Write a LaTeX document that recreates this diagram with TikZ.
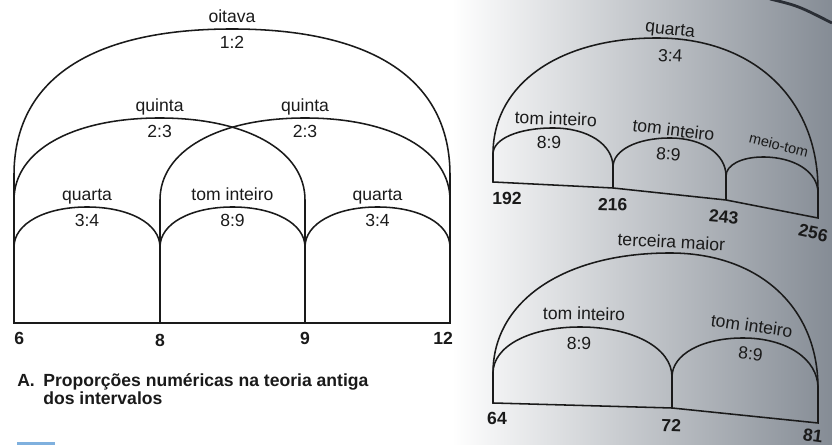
\documentclass[tikz,border=0pt]{standalone}
\usepackage{fontspec}
\setmainfont{Liberation Sans}
\usetikzlibrary{calc}
\definecolor{c1}{HTML}{1A1A1A}
\definecolor{pagegray}{HTML}{858C95}
\definecolor{edgecolor}{HTML}{2A2E35}
\definecolor{barcolor}{HTML}{7FB0DE}

\begin{document}
\begin{tikzpicture}[
    every node/.style={text=c1, inner sep=0pt},
    arch/.style={draw=c1, line width=1.1pt},
    lab/.style={anchor=base, font=\fontsize{12.5}{15}\selectfont},
    ratio/.style={anchor=base, font=\fontsize{12.5}{15}\selectfont},
    tag/.style={anchor=base, font=\fontsize{12.5}{15}\selectfont\bfseries},
    capt/.style={anchor=base west, font=\fontsize{12.5}{15}\selectfont\bfseries},
]
\useasboundingbox (0, 0) rectangle (20.80, 11.125);

% the photographed page darkens to the right
\shade[left color=white, right color=pagegray] (11.30, 0) rectangle (20.80, 11.125);
\draw[edgecolor, line width=2pt] (19.25, 11.15) .. controls (19.95, 10.98) .. (20.80, 10.55);
\fill[barcolor] (0.425, 0) rectangle (1.375, 0.07);

% ============================================================ A. 6 : 8 : 9 : 12
\foreach \n/\x in {6/0.35, 8/4.00, 9/7.625, 12/11.25}{
    \coordinate (f\n) at (\x, 3.05);
    \coordinate (u\n) at (\x, 6.125);
    \coordinate (l\n) at (\x, 4.95);
}
\coordinate (o6)  at (0.35, 6.75);
\coordinate (o12) at (11.25, 6.75);
\coordinate (tOit) at (5.80, 10.40);
\coordinate (tQuL) at (3.99, 8.175);
\coordinate (tQuR) at (7.625, 8.175);
\coordinate (tQaL) at (2.175, 5.95);
\coordinate (tTom) at (5.8125, 5.95);
\coordinate (tQaR) at (9.4375, 5.95);

\draw[arch] (o6) -- (f6) -- (f12) -- (o12);
\draw[arch] (f8) -- (u8);
\draw[arch] (f9) -- (u9);

% ============================================================ top-right, 192 : 216 : 243 : 256
\coordinate (F1) at (12.325, 6.575);
\coordinate (S1) at (12.325, 7.275);
\coordinate (F2) at (15.325, 6.425);
\coordinate (S2) at (15.325, 6.95);
\coordinate (F3) at (18.15, 6.125);
\coordinate (S3) at (18.15, 6.725);
\coordinate (F4) at (20.45, 5.675);
\coordinate (S4) at (20.45, 6.30);
\coordinate (S4o) at (20.45, 6.375);
\coordinate (Tq)  at (16.425, 10.175);
\coordinate (Tt1) at (13.825, 7.925);
\coordinate (Tt2) at (16.75, 7.675);
\coordinate (Tm)  at (19.075, 7.20);

\draw[arch] (S1) -- (F1) -- (F2) -- (F3) -- (F4) -- (S4o);
\draw[arch] (F2) -- (S2);
\draw[arch] (F3) -- (S3);

% ============================================================ bottom-right, 64 : 72 : 81
\coordinate (G1) at (12.325, 1.05);
\coordinate (R1) at (12.325, 1.80);
\coordinate (G2) at (16.80, 0.925);
\coordinate (R2) at (16.80, 1.70);
\coordinate (G3) at (20.45, 0.55);
\coordinate (R3) at (20.45, 1.425);
\coordinate (Tter) at (16.75, 4.80);
\coordinate (Tu1)  at (14.50, 2.95);
\coordinate (Tu2)  at (18.575, 2.675);

\draw[arch] (R1) -- (G1) -- (G2) -- (G3) -- (R3);
\draw[arch] (G2) -- (R2);

% every arch: left spring / top / right spring / fullness
\foreach \l/\t/\r/\k in {o6/tOit/o12/0.65, u6/tQuL/u9/0.6, u8/tQuR/u12/0.6,
        l6/tQaL/l8/0.58, l8/tTom/l9/0.58, l9/tQaR/l12/0.58,
        S1/Tq/S4o/0.6, S1/Tt1/S2/0.58, S2/Tt2/S3/0.58, S3/Tm/S4/0.58,
        R1/Tter/R3/0.6, R1/Tu1/R2/0.58, R2/Tu2/R3/0.58}{
    \draw[arch] (\l) .. controls ($(\l)!\k!(\l|-\t)$) and ($(\t)!\k!(\t-|\l)$) .. (\t)
        .. controls ($(\t)!\k!(\t-|\r)$) and ($(\r)!\k!(\r|-\t)$) .. (\r);
}

% names above, ratios below
\foreach \t/\a/\b in {tOit/oitava/1:2, tQuL/quinta/2:3, tQuR/quinta/2:3,
        tQaL/quarta/3:4, tTom/tom inteiro/8:9, tQaR/quarta/3:4}{
    \node[lab] (n\t) at ([yshift=1.6mm]\t) {\a};
    \node[ratio] (r\t) at ([yshift=-4.9mm]\t) {\b};
}
\node[tag, anchor=base west] (t6) at ([yshift=-5.5mm]f6) {6};
\node[tag] (t8) at ([yshift=-6mm]f8) {8};
\node[tag] (t9) at ([yshift=-5.5mm]f9) {9};
\node[tag, anchor=base east] (t12) at ([xshift=0.8mm, yshift=-5.5mm]f12) {12};

\node[capt] (capA) at (0.425, 1.45) {A.};
\node[capt] (capL1) at (1.075, 1.45) {Proporções numéricas na teoria antiga};
\node[capt] (capL2) at (1.075, 1.00) {dos intervalos};

% the page curls, so the right-hand texts lean
\node[lab, rotate=-6] (nQ) at (16.74, 10.26) {quarta};
\node[ratio, rotate=-3] (rQ) at (16.75, 9.58) {3:4};
\node[lab, rotate=-2] (nT1) at (13.89, 8.00) {tom inteiro};
\node[ratio] (rT1) at (13.725, 7.40) {8:9};
\node[lab, rotate=-7] (nT2) at (16.82, 7.72) {tom inteiro};
\node[ratio, rotate=-4] (rT2) at (16.70, 7.125) {8:9};
\node[lab, rotate=-14, font=\fontsize{10.3}{12}\selectfont] (nM) at (19.44, 7.37) {meio-tom};
\node[tag] (t192) at (12.675, 6.00) {192};
\node[tag, rotate=-2] (t216) at (15.31, 5.86) {216};
\node[tag, rotate=-5] (t243) at (18.08, 5.56) {243};
\node[tag, rotate=-12] (t256) at (20.30, 5.15) {256};

\node[lab, rotate=-3] (nTer) at (16.775, 4.92) {terceira maior};
\node[lab, rotate=-1] (nU1) at (14.60, 3.125) {tom inteiro};
\node[ratio] (rU1) at (14.475, 2.39) {8:9};
\node[lab, rotate=-8] (nU2) at (18.775, 2.83) {tom inteiro};
\node[ratio, rotate=-5] (rU2) at (18.75, 2.125) {8:9};
\node[tag] (t64) at (12.425, 0.52) {64};
\node[tag, rotate=-2] (t72) at (16.775, 0.33) {72};
\node[tag, rotate=-8] (t81) at (20.30, 0.08) {81};

\end{tikzpicture}
\end{document}
